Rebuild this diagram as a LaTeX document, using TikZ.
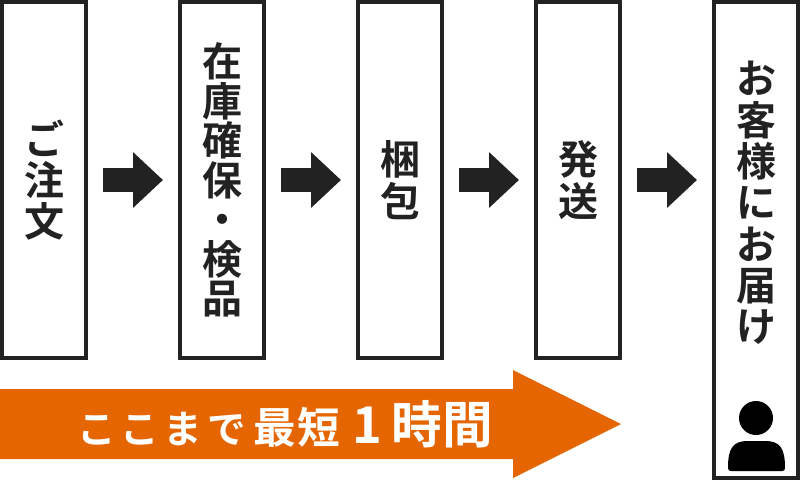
\documentclass[tikz,border=0pt]{standalone}
\usepackage{fontspec}
\newfontfamily\jpbold{Noto Sans CJK JP Bold}
\usetikzlibrary{arrows.meta}
\definecolor{darkline}{HTML}{222222}
\definecolor{leadorange}{HTML}{E56500}

\begin{document}
\begin{tikzpicture}[x=0.75pt,y=-0.75pt]
  \tikzstyle{BoxStyle}=[draw=darkline,line width=3pt,fill=white,inner sep=0pt,
    minimum width=63pt,minimum height=267pt,text=darkline,align=center,
    font=\jpbold\fontsize{30}{31}\selectfont]
  \tikzstyle{LabelStyle}=[inner sep=0pt,text=darkline,align=center,
    font=\jpbold\fontsize{30}{31}\selectfont]
  \tikzstyle{FlowStyle}=[darkline,line width=18pt,shorten <=11.25pt,shorten >=11.25pt,
    -{Triangle[length=22.5pt,width=40.5pt]}]
  \useasboundingbox (0,0) rectangle (800,480);
  \node[BoxStyle] (order) at (44,180) {ご\\注\\文};
  \node[BoxStyle,font=\jpbold\fontsize{30}{29.6}\selectfont] (stock) at (222,180) {在\\庫\\確\\保\\・\\検\\品};
  \node[BoxStyle] (pack) at (400,180) {梱\\包};
  \node[BoxStyle] (ship) at (578,180) {発\\送};
  \node[BoxStyle,minimum height=357pt] (deliver) at (756,240) {};
  \node[LabelStyle] (delivertext) at (756,203) {お\\客\\様\\に\\お\\届\\け};
  \draw[FlowStyle] (order) -- (stock);
  \draw[FlowStyle] (stock) -- (pack);
  \draw[FlowStyle] (pack) -- (ship);
  \draw[FlowStyle] (ship.east) -- (ship.east -| deliver.west);
  % lead time arrow
  \fill[leadorange] (0,389) -- (513,389) -- (513,370) -- (621,424) -- (513,478)
    -- (513,459) -- (0,459) -- cycle;
  \node[inner sep=0pt,text=white,anchor=west] (leadtext) at (77,424)
    {\jpbold\addfontfeature{LetterSpace=12}\fontsize{29}{30}\selectfont ここまで\hspace{6pt}%
     \addfontfeature{LetterSpace=2}\fontsize{32}{30}\selectfont 最短\hspace{9pt}%
     \addfontfeature{LetterSpace=0}\fontsize{38}{40}\selectfont 1\hspace{7.5pt}時間};
  % person
  \fill[black] (756,418) circle[radius=17];
  \fill[black] (728,468) .. controls (728,448) and (733,441) .. (748,441) -- (765,441)
    .. controls (780,441) and (785,448) .. (785,468) .. controls (785,470) and (784,471) .. (782,471)
    -- (731,471) .. controls (729,471) and (728,470) .. (728,468) -- cycle;
\end{tikzpicture}
\end{document}
